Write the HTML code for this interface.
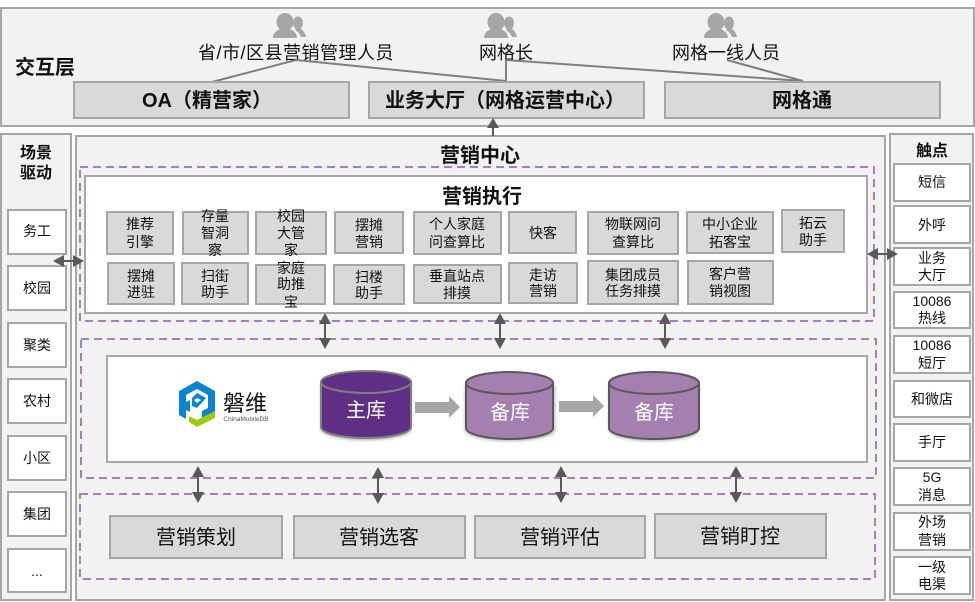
<!DOCTYPE html>
<html><head><meta charset="utf-8"><style>
html,body{margin:0;padding:0;background:#fff}
svg{display:block}
text{font-family:"Liberation Sans","Noto Sans CJK SC",sans-serif;text-anchor:middle;fill:#111}
.s{font-size:14px}.m{font-size:18px}.l{font-size:20px}.b{font-weight:700}.bs{font-size:16px;font-weight:700}
.p{fill:#f2f2f2;stroke:#a6a6a6;stroke-width:2}
.g{fill:#d9d9d9;stroke:#a6a6a6;stroke-width:2}
.w{fill:#fff;stroke:#a6a6a6;stroke-width:2}
.d{fill:none;stroke:#a67fb5;stroke-width:2;stroke-dasharray:8 5}
.c{stroke:#7f7f7f;stroke-width:2;fill:none}
.a{fill:#595959;stroke:none}
.sh{stroke:#595959;stroke-width:2}
</style></head><body>
<svg width="975" height="602" viewBox="0 0 975 602" xmlns="http://www.w3.org/2000/svg">
<defs>
<g id="person" fill="#a6a6a6"><ellipse cx="13" cy="9" rx="8.500" ry="9"/><path d="M1 25c0-6 5-8 9-10h6c4 2 9 4 9 10z"/><ellipse cx="26" cy="10" rx="5" ry="6.500"/><path d="M26 14l-3 3c3 2 5 4 6 7h5c-1-5-4-8-8-10z"/></g>
<filter id="blur" x="-20%" y="-20%" width="140%" height="140%"><feGaussianBlur stdDeviation="1.5"/></filter>
<path id="cyl" d="M0 11V56c0 6 20 11 45 11s45-5 45-11V11z"/>
</defs>
<rect class="p" x="1" y="8" width="973" height="118"/>
<use href="#person" x="272" y="13"/><use href="#person" x="483" y="13"/><use href="#person" x="703" y="13"/>
<text class="m" x="296" y="59" style="letter-spacing:.5px">省/市/区县营销管理人员</text>
<text class="m" x="506" y="59">网格长</text>
<text class="m" x="726" y="59">网格一线人员</text>
<text class="l b" x="45" y="74">交互层</text>
<path class="c" d="M296 60L212 82M296 60L506 81M506 60V81M506 60L803 81M727 60L803 81"/>
<rect class="g" x="74" y="82" width="275" height="36"/>
<rect class="g" x="369" y="82" width="275" height="36"/>
<rect class="g" x="665" y="82" width="275" height="36"/>
<text class="l b" x="207" y="107">OA（精营家）</text>
<text class="l b" x="505" y="107">业务大厅（网格运营中心）</text>
<text class="l b" x="802" y="107">网格通</text>

<rect class="p" x="1" y="134" width="70" height="466"/>
<rect class="p" x="76" y="136" width="809" height="464"/>
<rect class="p" x="890" y="134" width="83" height="466"/>
<path class="sh" d="M493 124V136"/><path class="a" d="M493 118l6 10h-12z"/>

<text class="bs" x="36" y="158">场景</text><text class="bs" x="36" y="178">驱动</text>
<rect class="w" x="8" y="210" width="58" height="44"/><text class="s" x="37" y="236">务工</text>
<rect class="w" x="8" y="266" width="58" height="44"/><text class="s" x="37" y="293">校园</text>
<rect class="w" x="8" y="323" width="58" height="44"/><text class="s" x="37" y="350">聚类</text>
<rect class="w" x="8" y="379" width="58" height="44"/><text class="s" x="37" y="406">农村</text>
<rect class="w" x="8" y="436" width="58" height="44"/><text class="s" x="37" y="463">小区</text>
<rect class="w" x="8" y="492" width="58" height="44"/><text class="s" x="37" y="519">集团</text>
<rect class="w" x="8" y="549" width="58" height="43"/><text class="s" x="37" y="576">...</text>

<text class="bs" x="932" y="156">触点</text>
<rect class="w" x="894" y="164" width="76" height="37"/><text class="s" x="932" y="187">短信</text>
<rect class="w" x="894" y="206" width="76" height="37"/><text class="s" x="932" y="230">外呼</text>
<rect class="w" x="894" y="248" width="76" height="37"/><text class="s" x="932" y="263">业务</text><text class="s" x="932" y="280">大厅</text>
<rect class="w" x="894" y="292" width="76" height="36"/><text class="s" x="932" y="306">10086</text><text class="s" x="932" y="323">热线</text>
<rect class="w" x="894" y="336" width="76" height="37"/><text class="s" x="932" y="350">10086</text><text class="s" x="932" y="368">短厅</text>
<rect class="w" x="894" y="381" width="76" height="36"/><text class="s" x="932" y="404">和微店</text>
<rect class="w" x="894" y="424" width="76" height="37"/><text class="s" x="932" y="447">手厅</text>
<rect class="w" x="894" y="468" width="76" height="37"/><text class="s" x="932" y="482">5G</text><text class="s" x="932" y="500">消息</text>
<rect class="w" x="894" y="513" width="76" height="37"/><text class="s" x="932" y="527">外场</text><text class="s" x="932" y="545">营销</text>
<rect class="w" x="894" y="557" width="76" height="37"/><text class="s" x="932" y="572">一级</text><text class="s" x="932" y="589">电渠</text>

<text class="l b" x="480" y="162">营销中心</text>
<rect class="d" x="80" y="167" width="794" height="154"/>
<rect class="d" x="81" y="339" width="795" height="139"/>
<rect class="d" x="80" y="494" width="795" height="85"/>
<rect class="w" x="85" y="176" width="782" height="137"/>
<text class="l b" x="482" y="203">营销执行</text>

<rect class="g" x="107" y="212" width="66" height="42"/><text class="s" x="140" y="229">推荐</text><text class="s" x="140" y="247">引擎</text>
<rect class="g" x="183" y="212" width="65" height="42"/><text class="s" x="215" y="221">存量</text><text class="s" x="215" y="238">智洞</text><text class="s" x="215" y="255">察</text>
<rect class="g" x="256" y="212" width="70" height="42"/><text class="s" x="291" y="221">校园</text><text class="s" x="291" y="238">大管</text><text class="s" x="291" y="255">家</text>
<rect class="g" x="335" y="212" width="68" height="41"/><text class="s" x="369" y="230">摆摊</text><text class="s" x="369" y="247">营销</text>
<rect class="g" x="414" y="212" width="87" height="42"/><text class="s" x="457" y="229">个人家庭</text><text class="s" x="457" y="247">问查算比</text>
<rect class="g" x="509" y="212" width="67" height="41"/><text class="s" x="543" y="238">快客</text>
<rect class="g" x="588" y="212" width="90" height="42"/><text class="s" x="633" y="229">物联网问</text><text class="s" x="633" y="247">查算比</text>
<rect class="g" x="687" y="212" width="86" height="41"/><text class="s" x="730" y="229">中小企业</text><text class="s" x="730" y="247">拓客宝</text>
<rect class="g" x="782" y="210" width="62" height="42"/><text class="s" x="813" y="228">拓云</text><text class="s" x="813" y="245">助手</text>

<rect class="g" x="108" y="263" width="66" height="41"/><text class="s" x="141" y="281">摆摊</text><text class="s" x="141" y="297">进驻</text>
<rect class="g" x="182" y="263" width="66" height="41"/><text class="s" x="215" y="281">扫街</text><text class="s" x="215" y="297">助手</text>
<rect class="g" x="256" y="265" width="69" height="39"/><text class="s" x="291" y="273">家庭</text><text class="s" x="291" y="289">助推</text><text class="s" x="291" y="307">宝</text>
<rect class="g" x="334" y="265" width="70" height="39"/><text class="s" x="369" y="282">扫楼</text><text class="s" x="369" y="298">助手</text>
<rect class="g" x="414" y="265" width="87" height="38"/><text class="s" x="457" y="281">垂直站点</text><text class="s" x="457" y="298">排摸</text>
<rect class="g" x="509" y="263" width="68" height="40"/><text class="s" x="543" y="280">走访</text><text class="s" x="543" y="296">营销</text>
<rect class="g" x="588" y="261" width="90" height="43"/><text class="s" x="633" y="280">集团成员</text><text class="s" x="633" y="296">任务排摸</text>
<rect class="g" x="688" y="261" width="85" height="43"/><text class="s" x="730" y="279">客户营</text><text class="s" x="730" y="296">销视图</text>

<rect class="w" x="107" y="356" width="760" height="106"/>

<!-- logo -->
<path fill="#0a84cf" d="M197 381l18 10v21l-13 7v-8l6-3v-13l-11-6-11 6v24l-7-4v-24z"/>
<path fill="#0a84cf" d="M197 393l9 5-9 10-5-2v-8zM186 402l4-2v12l-4-2z"/>
<path fill="#fff" d="M194 400l3-2 4 2-4 3z"/>
<path fill="#9dcb10" d="M189 416l8 4 18-9v7l-18 9-8-5z"/>
<text x="245" y="411" style="font-size:22px">磐维</text>
<text x="246" y="421" style="font-size:6.5px;fill:#555;font-family:'Liberation Sans',sans-serif">ChinaMobileDB</text>

<!-- cylinders -->
<use href="#cyl" x="321" y="373" fill="#000" opacity=".35" filter="url(#blur)"/>
<path d="M321 382V427c0 6 20 11 45 11s45-5 45-11V382z" fill="#5f2f85" stroke="#7f7f7f" stroke-width="2"/>
<ellipse cx="366" cy="382" rx="45" ry="11" fill="#5f2f85" stroke="#7f7f7f" stroke-width="2"/>
<text class="l" x="366" y="417" style="fill:#fff">主库</text>

<use href="#cyl" x="465" y="374" fill="#000" opacity=".3" filter="url(#blur)"/>
<path d="M466 383V428c0 6 20 11 43.500 11s43.500-5 43.500-11V383z" fill="#a47fb0" stroke="#595959" stroke-width="2"/>
<ellipse cx="509.500" cy="383" rx="43.500" ry="11" fill="#a47fb0" stroke="#595959" stroke-width="2"/>
<text class="l" x="510" y="419" style="fill:#fff">备库</text>

<use href="#cyl" x="609" y="374" fill="#000" opacity=".3" filter="url(#blur)"/>
<path d="M609 383V428c0 6 20 11 45 11s45-5 45-11V383z" fill="#a47fb0" stroke="#595959" stroke-width="2"/>
<ellipse cx="654" cy="383" rx="45" ry="11" fill="#a47fb0" stroke="#595959" stroke-width="2"/>
<text class="l" x="654" y="419" style="fill:#fff">备库</text>

<path fill="#a6a6a6" d="M415 402H449V396L460 407 449 418V413H415z"/>
<path fill="#a6a6a6" d="M559 401H593V395L604 406 593 417V412H559z"/>

<rect class="g" x="110" y="516" width="172" height="42"/><text class="l" x="196" y="544">营销策划</text>
<rect class="g" x="294" y="516" width="171" height="42"/><text class="l" x="379" y="544">营销选客</text>
<rect class="g" x="475" y="516" width="170" height="42"/><text class="l" x="560" y="544">营销评估</text>
<rect class="g" x="655" y="514" width="171" height="44"/><text class="l" x="740" y="543">营销盯控</text>

<!-- double arrows -->
<g class="sh">
<path d="M325 320V342M500 320V342M665 320V342M198 472V497M378 472V497M561 472V497M736 472V497"/>
<path d="M60 261H78M875 254H891"/>
</g>
<g class="a">
<path d="M325 313l6 11h-12zM325 349l6-11h-12z"/>
<path d="M500 313l6 11h-12zM500 349l6-11h-12z"/>
<path d="M665 313l6 11h-12zM665 349l6-11h-12z"/>
<path d="M198 466l6 11h-12zM198 503l6-11h-12z"/>
<path d="M378 467l6 11h-12zM378 504l6-11h-12z"/>
<path d="M561 466l6 11h-12zM561 503l6-11h-12z"/>
<path d="M736 466l6 11h-12zM736 503l6-11h-12z"/>
<path d="M53 261l11-6v12zM84 261l-11-6v12z"/>
<path d="M867 254l11-6v12zM898 254l-11-6v12z"/>
</g>
</svg>
</body></html>
